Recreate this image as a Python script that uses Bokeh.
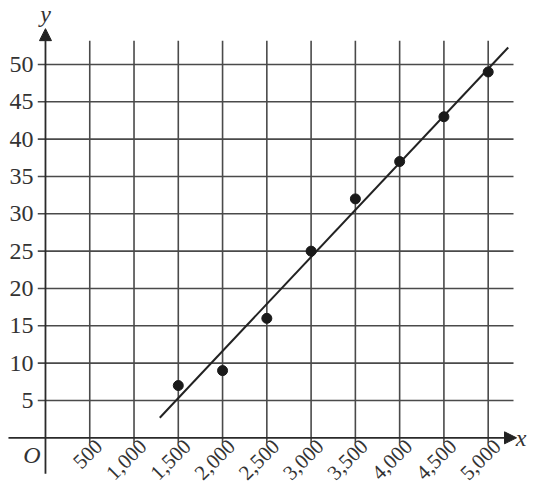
from bokeh.plotting import figure
from bokeh.models import Range1d, Arrow, NormalHead
from bokeh.core.properties import value
from bokeh.embed import file_html
from bokeh.resources import INLINE
import math

# ---- data ----
x_ticks = [500, 1000, 1500, 2000, 2500, 3000, 3500, 4000, 4500, 5000]
x_labels = ["500", "1,000", "1,500", "2,000", "2,500", "3,000", "3,500", "4,000", "4,500", "5,000"]
y_ticks = [5, 10, 15, 20, 25, 30, 35, 40, 45, 50]
y_labels = ["5", "10", "15", "20", "25", "30", "35", "40", "45", "50"]
pts_x = [1500, 2000, 2500, 3000, 3500, 4000, 4500, 5000]
pts_y = [7, 9, 16, 25, 32, 37, 43, 49]
fit_x = [1291, 5226]
fit_y = [2.68, 52.28]

# ---- extents ----
X_MIN, X_MAX = -508, 5444
Y_MIN, Y_MAX = -6.52, 58.57
grid_x_left, grid_x_right = -87, 5286
grid_y_bottom, grid_y_top = -0.76, 53.17
axis_x_start, axis_x_end = -418, 5320
axis_y_start, axis_y_end = -4.8, 54.8

FONT = "Liberation Serif"
INK = "#333333"
LINE = "#4a4a4a"

p = figure(width=527, height=486, output_backend="svg", toolbar_location=None,
           x_range=Range1d(X_MIN, X_MAX), y_range=Range1d(Y_MIN, Y_MAX),
           x_axis_type=None, y_axis_type=None, min_border=0)
p.outline_line_color = None
p.grid.visible = False
p.background_fill_color = "white"
p.border_fill_color = "white"

# horizontal grid lines
p.segment(x0=[grid_x_left] * len(y_ticks), y0=y_ticks,
          x1=[grid_x_right] * len(y_ticks), y1=y_ticks,
          line_color=LINE, line_width=1.6)
# vertical grid lines
p.segment(x0=x_ticks, y0=[grid_y_bottom] * len(x_ticks),
          x1=x_ticks, y1=[grid_y_top] * len(x_ticks),
          line_color=LINE, line_width=1.6)

# axes with arrows
p.add_layout(Arrow(x_start=axis_x_start, y_start=0, x_end=axis_x_end, y_end=0,
                   line_color="#2a2a2a", line_width=1.8,
                   end=NormalHead(size=12, fill_color="#222222", line_color="#222222")))
p.add_layout(Arrow(x_start=0, y_start=axis_y_start, x_end=0, y_end=axis_y_end,
                   line_color="#2a2a2a", line_width=1.8,
                   end=NormalHead(size=12, fill_color="#222222", line_color="#222222")))

# tick labels
p.text(x=[0] * len(y_ticks), y=y_ticks, text=y_labels, x_offset=-12,
       text_align="right", text_baseline="middle",
       text_font=value(FONT), text_font_size="24px", text_color=INK)
p.text(x=x_ticks, y=[0] * len(x_ticks), text=x_labels, angle=math.pi / 4,
       x_offset=4, y_offset=0,
       text_align="right", text_baseline="top",
       text_font=value(FONT), text_font_size="21px", text_color=INK)

# axis names
p.text(x=[0], y=[Y_MAX], text=["y"], y_offset=0, text_align="center", text_baseline="top",
       text_font=value(FONT), text_font_style="italic", text_font_size="24px", text_color=INK)
p.text(x=[0], y=[0], text=["O"], x_offset=-5, y_offset=4, text_align="right", text_baseline="top",
       text_font=value(FONT), text_font_style="italic", text_font_size="24px", text_color=INK)
p.text(x=[X_MAX], y=[0], text=["x"], x_offset=-1, text_align="right", text_baseline="middle",
       text_font=value(FONT), text_font_style="italic", text_font_size="24px", text_color=INK)

# fit line and points
p.line(fit_x, fit_y, line_color="#222222", line_width=2)
p.scatter(pts_x, pts_y, size=10, fill_color="#1a1a1a", line_color="#1a1a1a")

open("out.html", "w").write(file_html(p, INLINE))
